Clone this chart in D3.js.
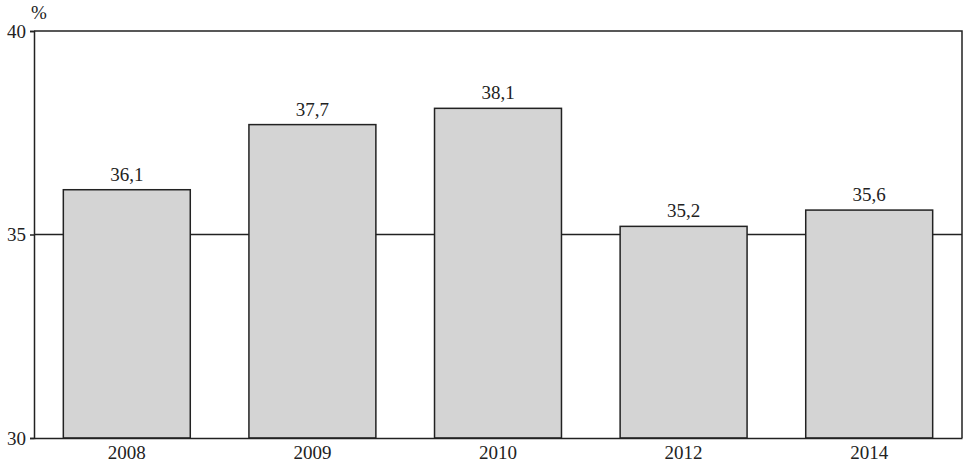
<!DOCTYPE html>
<html>
  <head>
    <script src="https://cdn.jsdelivr.net/npm/d3@7"></script>
    <style>
      body { margin: 0; background: #fff; }
      text { font-family: "Liberation Serif", "DejaVu Serif", serif; fill: #222; }
    </style>
  </head>
  <body>
    <svg width="964" height="472" id="mainsvg"></svg>
    <script>
      const years = ["2008", "2009", "2010", "2012", "2014"];
      const values = [36.1, 37.7, 38.1, 35.2, 35.6];
      const yTicks = [30, 35, 40];

      const svg = d3.select("#mainsvg");
      const margin = { top: 31, right: 2, bottom: 34, left: 34 };
      const innerWidth = 964 - margin.left - margin.right;
      const innerHeight = 472 - margin.top - margin.bottom;

      const g = svg.append("g")
        .attr("transform", `translate(${margin.left}, ${margin.top})`);

      const xScale = d3.scaleBand()
        .domain(years)
        .range([0, innerWidth])
        .paddingInner(0.316)
        .paddingOuter(0.158);

      const yScale = d3.scaleLinear()
        .domain([30, 40])
        .range([innerHeight, 0]);

      // line at 35 behind the bars
      g.append("line")
        .attr("x1", 0).attr("x2", innerWidth)
        .attr("y1", yScale(35)).attr("y2", yScale(35))
        .attr("stroke", "#222").attr("stroke-width", 1.5);

      // frame: top and right
      g.append("path")
        .attr("d", `M0,0H${innerWidth}V${innerHeight}`)
        .attr("fill", "none").attr("stroke", "#222").attr("stroke-width", 1.5);

      years.forEach((yr, i) => {
        g.append("rect")
          .attr("x", xScale(yr))
          .attr("y", yScale(values[i]))
          .attr("width", xScale.bandwidth())
          .attr("height", innerHeight - yScale(values[i]))
          .attr("fill", "#d4d4d4")
          .attr("stroke", "#222")
          .attr("stroke-width", 1.5);
        g.append("text")
          .text(String(values[i]).replace(".", ","))
          .attr("x", xScale(yr) + xScale.bandwidth() / 2)
          .attr("y", yScale(values[i]) - 9)
          .attr("text-anchor", "middle")
          .attr("font-size", 19);
      });

      const yAxis = d3.axisLeft(yScale).tickValues(yTicks).tickSize(4).tickPadding(4);
      const yG = g.append("g").call(yAxis);
      yG.select(".domain").attr("stroke", "#222").attr("stroke-width", 1.5);
      yG.selectAll(".tick line").attr("stroke", "#222").attr("stroke-width", 1.5);
      yG.selectAll(".tick text").attr("font-size", 19).attr("fill", "#222")
        .attr("font-family", "Liberation Sans, Arial, sans-serif");

      const xAxis = d3.axisBottom(xScale).tickSize(0).tickPadding(8);
      const xG = g.append("g").attr("transform", `translate(0, ${innerHeight})`).call(xAxis);
      xG.select(".domain").attr("stroke", "#222").attr("stroke-width", 1.5);
      xG.selectAll(".tick text").attr("font-size", 19).attr("fill", "#222")
        .attr("font-family", "Liberation Serif, DejaVu Serif, serif");

      svg.append("text")
        .text("%")
        .attr("x", 31).attr("y", 19)
        .attr("font-size", 19);
    </script>
  </body>
</html>
